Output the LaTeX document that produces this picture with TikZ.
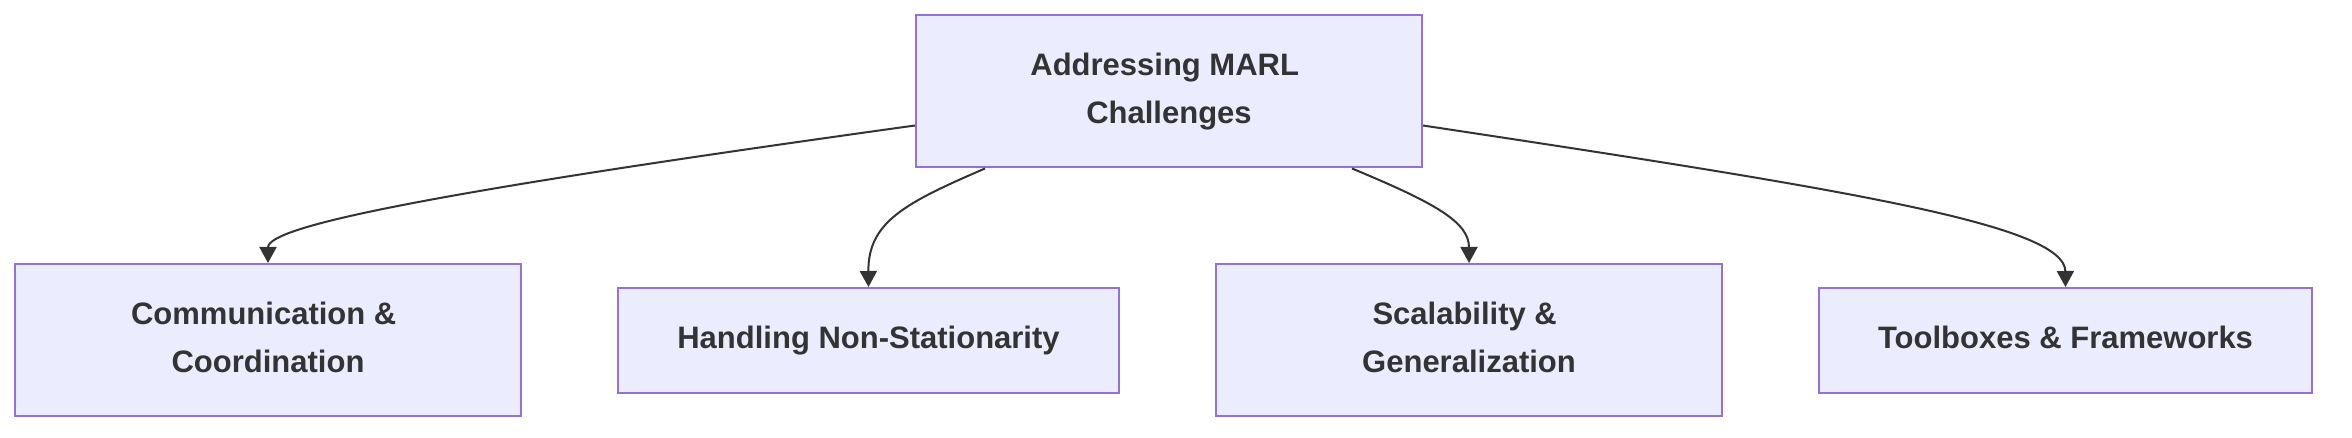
\documentclass[tikz,border=0pt]{standalone}
\usepackage{fontspec}
\setmainfont{Liberation Sans}
\usepackage{tikz}
\usetikzlibrary{arrows.meta}

\definecolor{boxfill}{HTML}{ECECFF}
\definecolor{boxline}{HTML}{9370DB}
\definecolor{ink}{HTML}{333333}
\newcommand{\topstrut}{\rule{0pt}{16.8pt}}
\newcommand{\botstrut}{\rule[-8.7pt]{0pt}{8.7pt}}
\newcommand{\tsp}{\hspace*{4.3pt}}

\begin{document}
\begin{tikzpicture}[x=0.5pt,y=-0.5pt]

\tikzset{box/.style = {shape=rectangle,draw=boxline,fill=boxfill,line width=1pt,
  text=ink,align=center,inner sep=0pt,font=\fontsize{15.5}{24}\selectfont\bfseries}}
\tikzset{edge/.style = {-{Triangle[length=8pt,width=8.5pt]},draw=ink,line width=1pt}}
\useasboundingbox (0,0) rectangle (2352,438);
% vertices
\node[box,minimum width=253pt,minimum height=76pt] (marl) at (1169,91.5) {\topstrut Addressing MARL\tsp\\Challenges\botstrut};
\node[box,minimum width=253pt,minimum height=76pt] (comm) at (268,340) {\topstrut Communication \&\tsp\\Coordination\botstrut};
\node[box,minimum width=250.5pt,minimum height=52.5pt] (nonstat) at (868.5,340.5) {\topstrut\botstrut Handling Non-Stationarity};
\node[box,minimum width=253pt,minimum height=76pt] (scal) at (1469,340) {\topstrut Scalability \&\tsp\\Generalization\botstrut};
\node[box,minimum width=246.5pt,minimum height=52.5pt] (tools) at (2065.5,340.5) {\topstrut\botstrut Toolboxes \& Frameworks};
%edges
\draw[edge] ([yshift=-17pt]marl.west) .. controls (450,190) and (268,225) .. (comm.north);
\draw[edge] ([xshift=-92pt]marl.south) .. controls (905,203) and (868,222) .. (nonstat.north);
\draw[edge] ([xshift=91.5pt]marl.south) .. controls (1435,203) and (1469,222) .. (scal.north);
\draw[edge] ([yshift=-17pt]marl.east) .. controls (1850,190) and (2065,225) .. (tools.north);
\end{tikzpicture}
\end{document}
